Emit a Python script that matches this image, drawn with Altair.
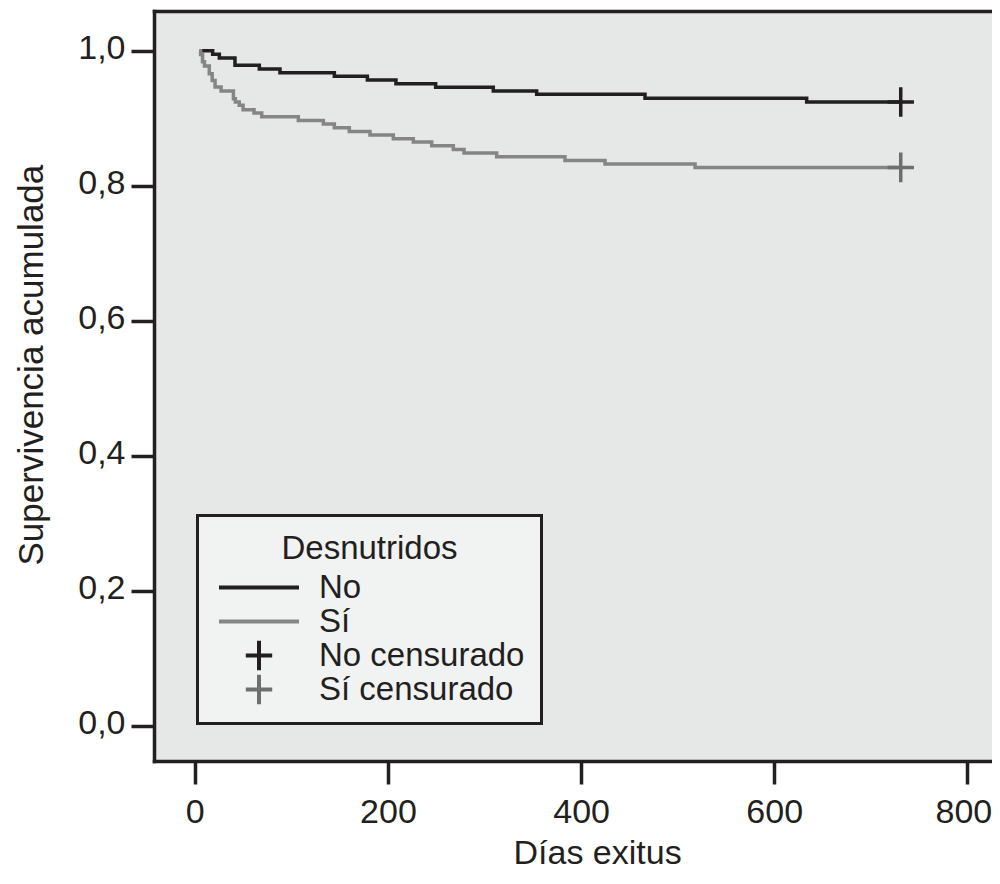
import altair as alt
import pandas as pd

# ---------------- data ----------------
no_dias = [5, 18.5, 25.4, 41.6, 66.8, 88.2, 144.5, 178.7, 208.3, 249.4, 309.1, 354.0, 466.2, 633.6, 731]
no_surv = [1.0, 0.9946, 0.9891, 0.9783, 0.9728, 0.9674, 0.9620, 0.9565, 0.9511, 0.9457,
           0.9402, 0.9353, 0.9294, 0.9240, 0.9240]

si_dias = [5, 6, 8, 10, 15, 18, 21, 27.2, 40, 42, 46, 50, 61.3, 69.3, 107.2, 133.1, 144.5,
           160, 181.4, 205.6, 226.3, 245.3, 267.7, 278.8, 312.6, 383.3, 424.8, 518, 731]
si_surv = [1.0, 0.9945, 0.9837, 0.9773, 0.9659, 0.9560, 0.9462, 0.9403, 0.9289, 0.9240,
           0.9190, 0.9126, 0.9077, 0.9022, 0.8967, 0.8914, 0.8859, 0.8804, 0.8751, 0.8696,
           0.8647, 0.8593, 0.8538, 0.8484, 0.8430, 0.8375, 0.8321, 0.8271, 0.8271]

cens_dias = [731, 731]
cens_surv = [0.9240, 0.8271]
cens_grupo = ["No censurado", "Sí censurado"]

grupos = ["No", "Sí"]
colores_grupo = ["#231f20", "#858585"]

categorias = ["No", "Sí", "No censurado", "Sí censurado"]
colores = ["#231f20", "#858585", "#231f20", "#6e6e6e"]
formas = ["M-1,0H1", "M-1,0H1",
          "M-0.33,0H0.33M0,-0.37V0.37", "M-0.33,0H0.33M0,-0.37V0.37"]

x_ticks = [0, 200, 400, 600, 800]
y_ticks = [0.0, 0.2, 0.4, 0.6, 0.8, 1.0]

X_MIN, X_MAX = -42.25, 825.5
Y_MIN, Y_MAX = -0.0523, 1.0588

# ---------------- tables ----------------
lines_df = pd.concat([
    pd.DataFrame({"dias": no_dias, "surv": no_surv, "grupo": "No"}),
    pd.DataFrame({"dias": si_dias, "surv": si_surv, "grupo": "Sí"}),
], ignore_index=True)
cens_df = pd.DataFrame({"dias": cens_dias, "surv": cens_surv, "grupo": cens_grupo})

FONT = "Liberation Sans"
INK = "#231f20"

x_scale = alt.Scale(domain=[X_MIN, X_MAX], nice=False, zero=False)
y_scale = alt.Scale(domain=[Y_MIN, Y_MAX], nice=False, zero=False)
color_scale = alt.Scale(domain=categorias, range=colores)
shape_scale = alt.Scale(domain=categorias, range=formas)
stroke_scale = alt.Scale(domain=grupos, range=colores_grupo)

x_axis = alt.Axis(
    values=x_ticks, title="Días exitus", orient="bottom", grid=False,
    labelFont=FONT, labelFontSize=34, labelColor=INK, labelPadding=11, labelFlush=False,
    labelOffset={"condition": {"test": "datum.value === 800", "value": -4}, "value": 0},
    tickSize=23, tickWidth=3.5, tickColor=INK,
    domainColor=INK, domainWidth=3.5, domainCap="square",
    titleFont=FONT, titleFontSize=34, titleFontWeight="normal", titleColor=INK,
    titleX=359, titleY=102, titleAlign="left", titleBaseline="alphabetic",
)
x_axis_top = alt.Axis(
    orient="top", grid=False, labels=False, ticks=False, title="",
    domainColor=INK, domainWidth=3.5, domainCap="square",
)
y_axis = alt.Axis(
    values=y_ticks, title="Supervivencia acumulada", grid=False,
    labelExpr="replace(format(datum.value, '.1f'), '.', ',')",
    labelFont=FONT, labelFontSize=34, labelColor=INK, labelPadding=6, labelOffset=-2,
    labelFlush=False,
    tickSize=23, tickWidth=3.5, tickColor=INK,
    domainColor=INK, domainWidth=3.5, domainCap="square",
    titleFont=FONT, titleFontSize=35, titleFontWeight="normal", titleColor=INK,
    titleAngle=270, titleX=-112, titleY=554, titleAlign="left", titleBaseline="alphabetic",
)

legend = alt.Legend(
    title="Desnutridos", orient="none", legendX=43.5, legendY=504.5, direction="vertical",
    fillColor="#f1f2f2", strokeColor=INK, padding=17, clipHeight=34,
    symbolOffset=2.5, symbolSize=6400, symbolStrokeWidth=4, symbolFillColor="transparent",
    labelOffset=18, labelFont=FONT, labelFontSize=33, labelColor=INK, labelLimit=500,
    titleFont=FONT, titleFontSize=33, titleFontWeight="normal", titleColor=INK,
    titleAnchor="middle", titlePadding=5, titleLimit=500, rowPadding=0,
)

lines = alt.Chart(lines_df).mark_line(interpolate="step-after", strokeWidth=3.5).encode(
    x=alt.X("dias:Q", scale=x_scale, axis=x_axis),
    y=alt.Y("surv:Q", scale=y_scale, axis=y_axis),
    stroke=alt.Stroke("grupo:N", scale=stroke_scale, legend=None),
    detail="grupo:N",
)

censors = alt.Chart(cens_df).mark_point(filled=False, size=6400, strokeWidth=3.5, opacity=1).encode(
    x=alt.X("dias:Q", scale=x_scale, axis=x_axis_top),
    y=alt.Y("surv:Q", scale=y_scale, axis=y_axis),
    color=alt.Color("grupo:N", scale=color_scale, legend=legend),
    shape=alt.Shape("grupo:N", scale=shape_scale, legend=legend),
)

chart = alt.layer(lines, censors).resolve_axis(x="independent").properties(
    width=838, height=750,
    padding={"left": 146, "top": 3, "right": 0, "bottom": 109},
    autosize=alt.AutoSizeParams(type="none"),
    background="white",
).configure_view(fill="#e6e7e7", stroke="transparent").configure_legend(strokeWidth=3)

chart.save("out.html", embed_options={"renderer": "svg", "actions": False})
